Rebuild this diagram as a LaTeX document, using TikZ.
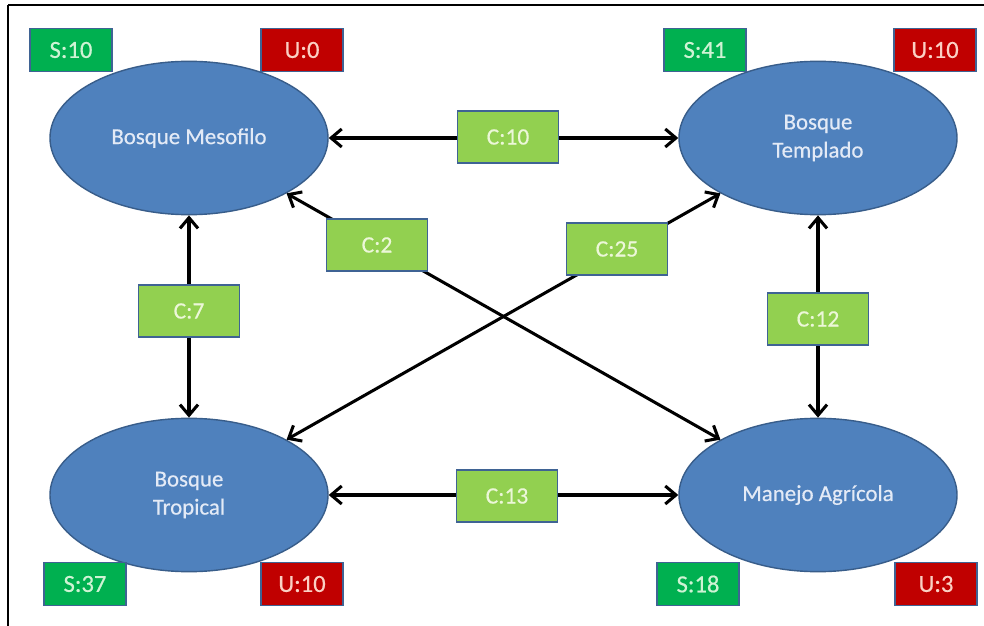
\documentclass[tikz,border=0pt]{standalone}
\usepackage{fontspec}
\setmainfont{Carlito}
\newfontfamily\dfont[FakeBold=0.5]{Carlito}
\usetikzlibrary{shapes.geometric,arrows.meta}
\definecolor{ellfill}{HTML}{4F81BD}
\definecolor{ellline}{HTML}{385D8A}
\definecolor{sgreen}{HTML}{00B050}
\definecolor{ured}{HTML}{C00000}
\definecolor{cgreen}{HTML}{92D050}
\definecolor{boxline}{HTML}{3F6394}
\definecolor{elltext}{HTML}{E3EAF6}
\definecolor{stext}{HTML}{CFF3D4}
\definecolor{utext}{HTML}{FBD0C4}
\definecolor{ctext}{HTML}{ECF7D8}
\tikzset{
  state/.style={ellipse, draw=ellline, line width=1.2pt, fill=ellfill,
    minimum width=8.34cm, minimum height=4.6cm, inner sep=0pt,
    text=elltext, align=center, font=\dfont\fontsize{19.5}{24}\selectfont},
  sbox/.style={rectangle, draw=boxline, line width=1.5pt, fill=sgreen,
    minimum width=2.46cm, minimum height=1.29cm, inner sep=0pt,
    text=stext, font=\dfont\fontsize{21}{25}\selectfont},
  ubox/.style={sbox, fill=ured, text=utext},
  cbox/.style={rectangle, draw=boxline, line width=1.5pt, fill=cgreen,
    minimum width=3.03cm, minimum height=1.56cm, inner sep=0pt,
    text=ctext, font=\dfont\fontsize{20}{24}\selectfont},
  link/.style={line width=2.6pt, black,
    {Straight Barb[length=3.2mm,width=5.4mm]}-{Straight Barb[length=3.2mm,width=5.4mm]}}
}
\begin{document}
\begin{tikzpicture}[x=0.03cm,y=-0.03cm]
\useasboundingbox (0,0) rectangle (984,626);
\fill[white] (0,0) rectangle (984,626);
\draw[line width=1.8pt] (8,5) -- (984,5);
\draw[line width=1.8pt] (8,5) -- (8,626);

\node[state] (meso) at (189,138) {Bosque Mesofilo};
\node[state] (templ) at (818,138) {Bosque\\Templado};
\node[state] (trop) at (189,495) {Bosque\\Tropical};
\node[state] (manejo) at (818,495) {Manejo Agrícola};

\node[sbox] (s10) at (71,50) {S:10};
\node[ubox] (u0) at (302,50) {U:0};
\node[sbox] (s41) at (705,50) {S:41};
\node[ubox] (u10a) at (935,50) {U:10};
\node[sbox] (s37) at (85,584) {S:37};
\node[ubox] (u10b) at (302,584) {U:10};
\node[sbox] (s18) at (698,584) {S:18};
\node[ubox] (u3) at (936,584) {U:3};

\draw[link] (meso) -- (templ);
\draw[link] (meso) -- (manejo);
\draw[link] (trop) -- (templ);
\draw[link] (meso) -- (trop);
\draw[link] (templ) -- (manejo);
\draw[link] (trop) -- (manejo);

\node[cbox] (c10) at (508,137) {C:10};
\node[cbox] (c2) at (377,245) {C:2};
\node[cbox] (c25) at (617,249) {C:25};
\node[cbox] (c7) at (189,311) {C:7};
\node[cbox] (c12) at (818,319) {C:12};
\node[cbox] (c13) at (507,496) {C:13};
\end{tikzpicture}
\end{document}
